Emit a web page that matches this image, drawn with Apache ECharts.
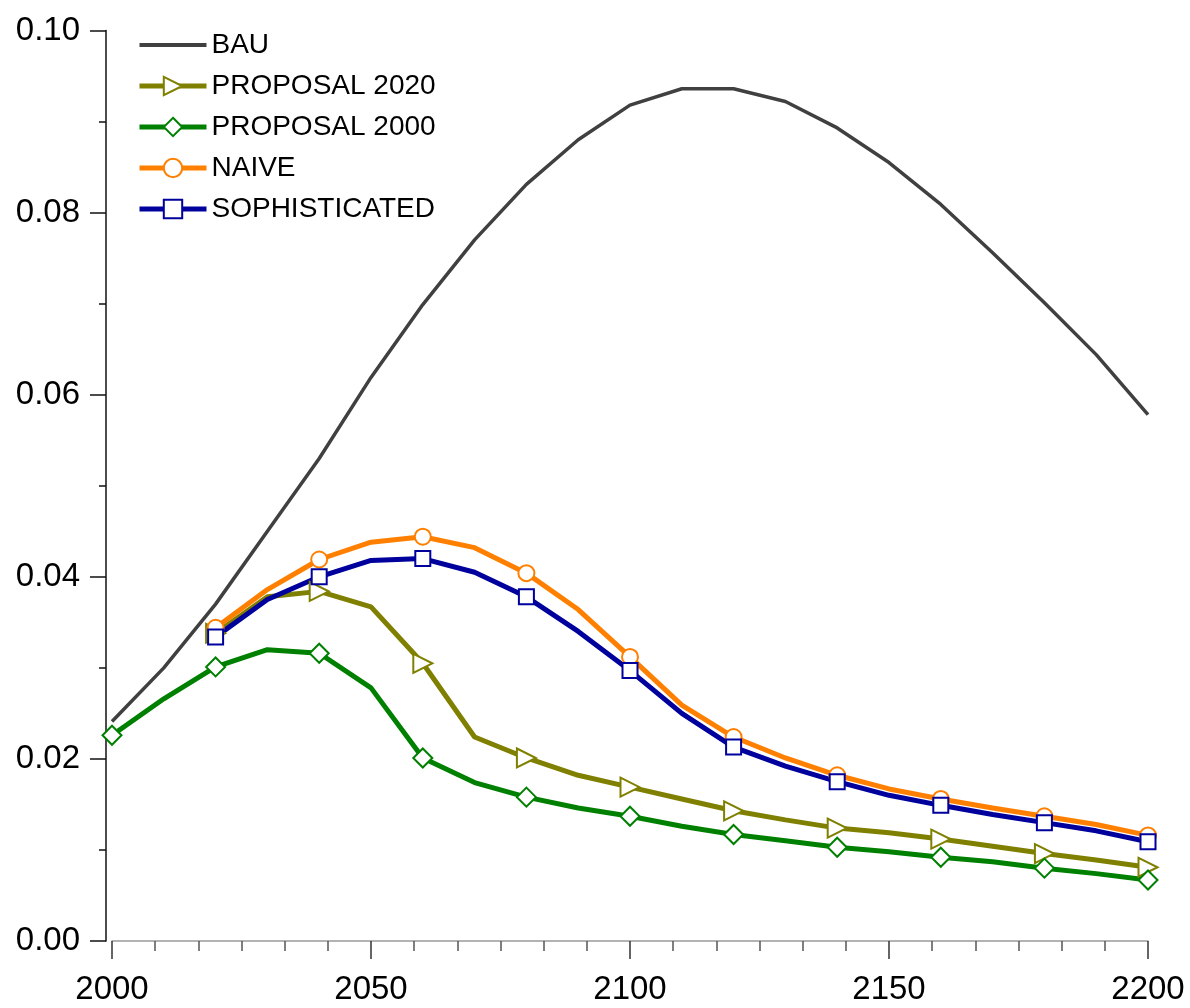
<!DOCTYPE html>
<html>
<head>
<meta charset="utf-8">
<script src="https://cdn.jsdelivr.net/npm/echarts@6/dist/echarts.min.js"></script>
<style>
  html, body { margin: 0; padding: 0; background: #fff; }
  #chart { width: 1190px; height: 1008px; }
</style>
</head>
<body>
<div id="chart"></div>
<script>
// Years on a 10-year grid; markers are drawn on every second point (20-year steps).
const yearsFull = [2000, 2010, 2020, 2030, 2040, 2050, 2060, 2070, 2080, 2090, 2100,
                   2110, 2120, 2130, 2140, 2150, 2160, 2170, 2180, 2190, 2200];
const yearsFrom2020 = yearsFull.slice(2);

const bau = [0.0241, 0.0300, 0.0370, 0.0450, 0.0530, 0.0619, 0.0699, 0.0770, 0.0831, 0.0880, 0.0918,
             0.0936, 0.0936, 0.0922, 0.0893, 0.0855, 0.0809, 0.0756, 0.0701, 0.0644, 0.0578];
const proposal2020 = [0.0338, 0.0378, 0.0384, 0.0367, 0.0305, 0.0224, 0.0201, 0.0182, 0.0169,
                      0.0156, 0.0143, 0.0133, 0.0124, 0.0119, 0.0112, 0.0104, 0.0096, 0.0089, 0.0081];
const proposal2000 = [0.0226, 0.0266, 0.0301, 0.0320, 0.0316, 0.0278, 0.0201, 0.0174, 0.0158, 0.0146, 0.0137,
                      0.0126, 0.0117, 0.0110, 0.0103, 0.0098, 0.0092, 0.0087, 0.0080, 0.0074, 0.0067];
const naive = [0.0344, 0.0386, 0.0419, 0.0438, 0.0444, 0.0432, 0.0404, 0.0364, 0.0312,
               0.0259, 0.0224, 0.0201, 0.0182, 0.0167, 0.0156, 0.0146, 0.0137, 0.0128, 0.0116];
const sophisticated = [0.0334, 0.0375, 0.0400, 0.0418, 0.0420, 0.0405, 0.0378, 0.0340, 0.0297,
                       0.0250, 0.0213, 0.0192, 0.0175, 0.0160, 0.0149, 0.0139, 0.0130, 0.0121, 0.0109];

const yTickLabels = ['0.00', '0.02', '0.04', '0.06', '0.08', '0.10'];

const FONT = '"Liberation Sans", Arial, sans-serif';
const LINE_W = 5;

// Pair years with values; odd-decade points carry no marker.
function points(years, values) {
  return years.map((yr, i) => {
    const item = { value: [yr, values[i]] };
    if (yr % 20 !== 0) item.symbol = 'none';
    return item;
  });
}

function markedSeries(name, years, values, color, symbol, size, rotate) {
  return {
    name: name,
    type: 'line',
    data: points(years, values),
    symbol: symbol,
    symbolSize: size,
    symbolRotate: rotate || 0,
    showAllSymbol: true,
    lineStyle: { color: color, width: LINE_W },
    itemStyle: { color: color, borderWidth: 1.5 },
    emphasis: { disabled: true },
    animation: false
  };
}

const chart = echarts.init(document.getElementById('chart'), null, { renderer: 'canvas' });

chart.setOption({
  backgroundColor: '#fff',
  animation: false,
  grid: { left: 112, right: 42, top: 30.5, bottom: 67, containLabel: false },
  legend: {
    left: 137,
    top: 31,
    padding: 0,
    orient: 'vertical',
    itemWidth: 67,
    itemHeight: 23,
    itemGap: 13,
    lineStyle: { width: LINE_W },
    textStyle: { fontFamily: FONT, fontSize: 28, color: '#000' },
    data: [
      // the plain line entry: hide its marker, keep the stroke
      { name: 'BAU', itemStyle: { opacity: 0 }, lineStyle: { width: 4 } },
      'PROPOSAL 2020', 'PROPOSAL 2000', 'NAIVE', 'SOPHISTICATED'
    ]
  },
  xAxis: {
    type: 'value',
    min: 2000,
    max: 2200,
    interval: 50,
    axisLine: { show: true, lineStyle: { color: '#9a9a9a', width: 1.5 } },
    axisTick: { show: true, inside: false, length: 18, lineStyle: { color: '#333', width: 1.5 } },
    minorTick: { show: true, splitNumber: 6, length: 10, lineStyle: { color: '#555', width: 1.5 } },
    axisLabel: {
      fontFamily: FONT, fontSize: 33, color: '#000', margin: 32,
      formatter: (v) => String(v)
    },
    splitLine: { show: false },
    minorSplitLine: { show: false }
  },
  yAxis: {
    type: 'value',
    min: 0,
    max: 0.1,
    interval: 0.02,
    offset: 6,
    axisLine: { show: true, lineStyle: { color: '#111', width: 1.5 } },
    axisTick: { show: true, inside: false, length: 16, lineStyle: { color: '#111', width: 1.5 } },
    minorTick: { show: true, splitNumber: 2, length: 7, lineStyle: { color: '#111', width: 1.5 } },
    axisLabel: {
      fontFamily: FONT, fontSize: 33, color: '#000', margin: 26,
      formatter: (v) => yTickLabels[Math.round(v / 0.02)]
    },
    splitLine: { show: false },
    minorSplitLine: { show: false }
  },
  series: [
    {
      name: 'BAU',
      type: 'line',
      data: yearsFull.map((yr, i) => [yr, bau[i]]),
      symbol: 'none',
      lineStyle: { color: '#404040', width: 3.5 },
      itemStyle: { color: '#404040' },
      emphasis: { disabled: true },
      animation: false
    },
    markedSeries('PROPOSAL 2020', yearsFrom2020, proposal2020, '#808000', 'emptyTriangle', 19, -90),
    markedSeries('PROPOSAL 2000', yearsFull, proposal2000, '#008000', 'emptyDiamond', 19),
    markedSeries('NAIVE', yearsFrom2020, naive, '#ff8000', 'emptyCircle', 16),
    markedSeries('SOPHISTICATED', yearsFrom2020, sophisticated, '#00009c', 'emptyRect', 15)
  ]
});
</script>
</body>
</html>
